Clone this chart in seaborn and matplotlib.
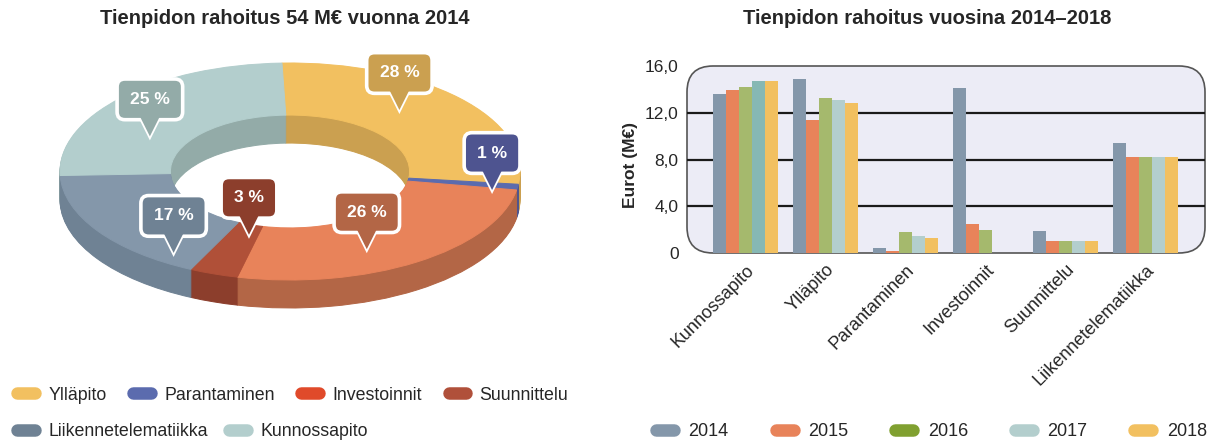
import numpy as np
import pandas as pd
import matplotlib
matplotlib.use("Agg")
import matplotlib.pyplot as plt
import seaborn as sns
from matplotlib.patches import FancyBboxPatch, Polygon
from matplotlib.lines import Line2D

# ---------------- data ----------------
categories = ["Kunnossapito", "Ylläpito", "Parantaminen", "Investoinnit",
              "Suunnittelu", "Liikennetelematiikka"]
years = ["2014", "2015", "2016", "2017", "2018"]
v2014 = [13.6, 14.9, 0.46, 14.1, 1.86, 9.4]
v2015 = [13.95, 11.37, 0.14, 2.46, 1.0, 8.2]
v2016 = [14.23, 13.29, 1.8, 2.0, 1.0, 8.2]
v2017 = [14.74, 13.09, 1.49, 0.0, 1.0, 8.2]
v2018 = [14.74, 12.83, 1.29, 0.0, 1.0, 8.2]
yticks = [0, 4, 8, 12, 16]
ytick_labels = ["0", "4,0", "8,0", "12,0", "16,0"]

# donut: 2014 shares, drawn clockwise from the top
donut_order = ["Ylläpito", "Parantaminen", "Investoinnit", "Suunnittelu",
               "Liikennetelematiikka", "Kunnossapito"]
donut_pct_text = ["28 %", "1 %", "26 %", "3 %", "17 %", "25 %"]

title_left = "Tienpidon rahoitus 54 M€ vuonna 2014"
title_right = "Tienpidon rahoitus vuosina 2014–2018"

# ---------------- styles ----------------
top_colors = {"Ylläpito": "#F2C060", "Parantaminen": "#5B6BAE", "Investoinnit": "#E8835A",
              "Suunnittelu": "#B05038", "Liikennetelematiikka": "#8497AA", "Kunnossapito": "#B3CECD"}
side_colors = {"Ylläpito": "#CBA050", "Parantaminen": "#4E5490", "Investoinnit": "#B36646",
               "Suunnittelu": "#8C3E2C", "Liikennetelematiikka": "#6F8294", "Kunnossapito": "#93ABA8"}
legend_colors = {"Ylläpito": "#F2C060", "Parantaminen": "#5B6BAE", "Investoinnit": "#E04A2A",
                 "Suunnittelu": "#B0503A", "Liikennetelematiikka": "#6F8294", "Kunnossapito": "#B3CECD"}
bar_colors = ["#8497AA", "#E8835A", "#A5B96D", "#B3CECD", "#F2C060"]
year_legend_colors = ["#8497AA", "#E8835A", "#80A030", "#B3CECD", "#F2C060"]
# callout anchor on the ring: (angle in degrees, relative radius)
callout_anchor = [(50, 0.74), (-11, 0.895), (-65, 0.79), (-107, 0.61), (-124, 0.905), (152, 0.69)]

sns.set_style("white")
plt.rcParams["font.family"] = ["Liberation Sans", "DejaVu Sans"]
TXT = "#262626"

W, H = 1214, 442
fig = plt.figure(figsize=(W / 100, H / 100), dpi=100)

# ---------------- 3D-like donut ----------------
cx, cy, rx, ry = 290, 171.5, 230, 108.5
ax1 = fig.add_axes([0, (H - 370) / H, 600 / W, 330 / H])
sizes = [v2014[categories.index(n)] for n in donut_order]
thick = 28 / ry
offsets = np.linspace(thick, 0, 29)
for k, off in enumerate(offsets):
    last = k == len(offsets) - 1
    cols = [(top_colors if last else side_colors)[n] for n in donut_order]
    wedges, _ = ax1.pie(sizes, colors=cols, startangle=92, counterclock=False, radius=1,
                        center=(0, -off), wedgeprops=dict(width=0.48, linewidth=0.7))
    for w in wedges:
        w.set_edgecolor(w.get_facecolor())
ax1.set_aspect("auto")
ax1.set_xlim((0 - cx) / rx, (600 - cx) / rx)
ax1.set_ylim((cy - 370) / ry, (cy - 40) / ry)
ax1.set_axis_off()

for i, name in enumerate(donut_order):
    a, r = callout_anchor[i]
    tx, ty = r * np.cos(np.radians(a)), r * np.sin(np.radians(a))
    col = side_colors[name]
    ph, hw, ov = 17 / ry, 11 / rx, 5 / ry
    tri = [(tx, ty), (tx - hw, ty + ph + ov), (tx + hw, ty + ph + ov)]
    ax1.add_patch(Polygon(tri, closed=True, fc=col, ec="white", lw=2.6, zorder=10, clip_on=False))
    by = ty + (17 + 20) / ry
    ax1.text(tx, by, donut_pct_text[i], color=col, fontsize=12.5, fontweight="bold",
             ha="center", va="center", zorder=11,
             bbox=dict(boxstyle="round,pad=0.74,rounding_size=0.45", fc=col, ec="white", lw=2.6))
    ax1.add_patch(Polygon(tri, closed=True, fc=col, ec="none", zorder=12, clip_on=False))
    ax1.text(tx, by, donut_pct_text[i], color="white", fontsize=12.5, fontweight="bold",
             ha="center", va="center", zorder=13)

# legends for donut
def handle(c):
    return Line2D([], [], color=c, lw=9, solid_capstyle="round")

row1 = ["Ylläpito", "Parantaminen", "Investoinnit", "Suunnittelu"]
row2 = ["Liikennetelematiikka", "Kunnossapito"]
fig.legend([handle(legend_colors[n]) for n in row1], row1, loc="center left",
           bbox_to_anchor=(17 / W, (H - 395) / H), ncol=4, frameon=False, fontsize=12.8,
           handlelength=1.0, handletextpad=0.75, columnspacing=1.5, borderpad=0, borderaxespad=0,
           labelcolor=TXT)
fig.legend([handle(legend_colors[n]) for n in row2], row2, loc="center left",
           bbox_to_anchor=(17 / W, (H - 432) / H), ncol=2, frameon=False, fontsize=12.8,
           handlelength=1.0, handletextpad=0.75, columnspacing=1.2, borderpad=0, borderaxespad=0,
           labelcolor=TXT)

# ---------------- bar chart ----------------
rows = []
for yr, vals in zip(years, [v2014, v2015, v2016, v2017, v2018]):
    for c, v in zip(categories, vals):
        rows.append({"Kategoria": c, "Vuosi": yr, "Eurot": v})
df = pd.DataFrame(rows)

bl, br, bt, bb = 687, 1205, 66, 253
ax2 = fig.add_axes([bl / W, (H - bb) / H, (br - bl) / W, (bb - bt) / H])
ax2.patch.set_visible(False)
aw, ah = br - bl, bb - bt
box = FancyBboxPatch((0, 0), 1, 1, boxstyle="round,pad=0,rounding_size=%f" % (26 / aw),
                     mutation_aspect=aw / ah, transform=ax2.transAxes, fc="#ECECF6",
                     ec="#555555", lw=1.2, zorder=0, clip_on=False)
ax2.add_patch(box)
for g in [4, 8, 12]:
    ax2.axhline(g, color="#1a1a1a", lw=1.6, zorder=1)

sns.barplot(data=df, x="Kategoria", y="Eurot", hue="Vuosi", order=categories, hue_order=years,
            palette=bar_colors, width=0.8125, saturation=1, linewidth=0, errorbar=None,
            ax=ax2, legend=False, zorder=3)
# the 2017 Kunnossapito bar is drawn in a deeper teal in the original
ax2.containers[3][0].set_facecolor("#86B8B4")
ax2.set_xlim(-0.73, 5.745)
ax2.set_ylim(0, 16)
for s in ax2.spines.values():
    s.set_visible(False)
ax2.set_yticks(yticks)
ax2.set_yticklabels(ytick_labels, fontsize=12.5, color=TXT)
ax2.tick_params(axis="y", length=0, pad=6)
ax2.tick_params(axis="x", length=0, pad=6)
ax2.set_xticks(range(len(categories)))
ax2.set_xticklabels(categories, rotation=45, ha="right", va="top", rotation_mode="anchor",
                    fontsize=13, color=TXT)
ax2.set_xlabel("")
ax2.set_ylabel("Eurot (M€)", fontsize=12.5, fontweight="bold", color=TXT)
ax2.yaxis.set_label_coords((638 - bl) / aw, 0.47)

fig.legend([handle(c) for c in year_legend_colors], years, loc="center left",
           bbox_to_anchor=(656 / W, (H - 432) / H), ncol=5, frameon=False, fontsize=13,
           handlelength=1.0, handletextpad=0.8, columnspacing=2.6, borderpad=0, borderaxespad=0,
           labelcolor=TXT)

# ---------------- titles ----------------
fig.text(285 / W, 1 - 18 / H, title_left, ha="center", va="center", fontsize=14.5,
         fontweight="bold", color=TXT)
fig.text(927 / W, 1 - 18 / H, title_right, ha="center", va="center", fontsize=14.5,
         fontweight="bold", color=TXT)

fig.savefig("out.png", dpi=100, facecolor="white")
